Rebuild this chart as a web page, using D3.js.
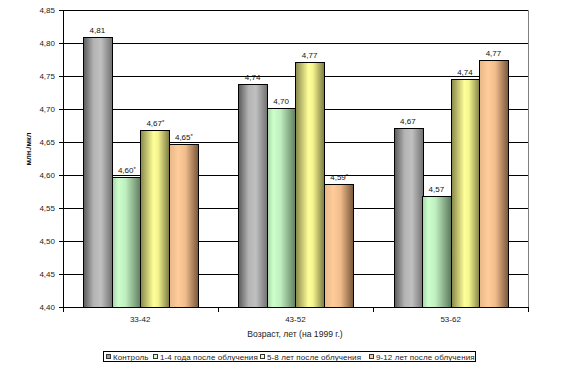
<!DOCTYPE html>
<html><head><meta charset="utf-8">
<script src="https://cdn.jsdelivr.net/npm/d3@7"></script>
<style>body{margin:0;background:#fff}svg{display:block}text{font-family:"Liberation Sans",Arial,sans-serif}</style>
</head><body><svg id="c" width="567" height="379"></svg>
<script>
const categories = ["33-42", "43-52", "53-62"];
const seriesNames = ["Контроль", "1-4 года после облучения", "5-8 лет после облучения", "9-12 лет после облучения"];
const control = [4.809, 4.738, 4.672];
const years1to4 = [4.597, 4.702, 4.568];
const years5to8 = [4.669, 4.771, 4.745];
const years9to12 = [4.647, 4.587, 4.774];
const labels = [
  ["4,81", "4,74", "4,67"],
  ["4,60*", "4,70", "4,57"],
  ["4,67*", "4,77", "4,74"],
  ["4,65*", "4,59*", "4,77"]
];
const yTicks = [4.40, 4.45, 4.50, 4.55, 4.60, 4.65, 4.70, 4.75, 4.80, 4.85];
const yTitle = "млн./мкл";
const xTitle = "Возраст, лет (на 1999 г.)";

const values = [control, years1to4, years5to8, years9to12];
const svg = d3.select("#c");
const L = 62.5, R = 528.3, T = 10.3, B = 306.7;
const y = d3.scaleLinear().domain([4.40, 4.85]).range([B, T]);
const x0 = d3.scaleBand().domain(categories).range([L, R]).padding(0);
const gw = x0.bandwidth();
const gap = gw * 0.1327;
const x1 = d3.scaleBand().domain(d3.range(seriesNames.length)).range([gap, gw - gap]).padding(0);

const defs = svg.append("defs");
const grads = [
  [[0, "#5a5a5a"], [0.35, "#b4b4b4"], [0.6, "#c0c0c0"], [1, "#707070"]],
  [[0, "#a8d4a8"], [0.2, "#ccffcc"], [0.45, "#bfeebf"], [1, "#5a765a"]],
  [[0, "#86864a"], [0.45, "#ffff99"], [0.6, "#f5f590"], [1, "#78783f"]],
  [[0, "#e8b88a"], [0.3, "#ffcc99"], [0.55, "#f0bc8c"], [1, "#765638"]]
];
const base = ["#a0a0a0", "#ccffcc", "#ffff99", "#ffcc99"];
grads.forEach((g, i) => {
  const lg = defs.append("linearGradient").attr("id", "g" + i).attr("x1", 0).attr("x2", 1).attr("y1", 0).attr("y2", 0);
  g.forEach(s => lg.append("stop").attr("offset", s[0]).attr("stop-color", s[1]));
});

// gridlines
svg.append("g").selectAll("line").data(yTicks).join("line")
  .attr("x1", L).attr("x2", R).attr("y1", d => Math.round(y(d)) + 0.5).attr("y2", d => Math.round(y(d)) + 0.5)
  .attr("stroke", "#000").attr("stroke-width", 1);
// right border
svg.append("line").attr("x1", Math.round(R) + 0.5).attr("x2", Math.round(R) + 0.5)
  .attr("y1", Math.round(T) + 0.5).attr("y2", Math.round(B) + 0.5).attr("stroke", "#808080");

// bars
const g = svg.append("g");
values.forEach((vals, si) => {
  g.selectAll(".b" + si).data(vals).join("rect")
    .attr("x", (d, ci) => Math.round(x0(categories[ci]) + x1(si)) + 0.5)
    .attr("width", Math.round(x1.bandwidth()))
    .attr("y", d => Math.round(y(d)) + 0.5)
    .attr("height", d => Math.round(y(4.40)) - Math.round(y(d)))
    .attr("fill", "url(#g" + si + ")").attr("stroke", "#000").attr("stroke-width", 1);
  vals.forEach((d, ci) => {
    const lab = labels[si][ci];
    const star = lab.endsWith("*");
    const t = svg.append("text")
      .attr("x", x0(categories[ci]) + x1(si) + x1.bandwidth() / 2 + (star ? 1 : 0))
      .attr("y", y(d) - 4).attr("text-anchor", "middle").attr("font-size", 8).attr("fill", "#111");
    t.append("tspan").text(star ? lab.slice(0, -1) : lab);
    if (star) t.append("tspan").attr("font-size", 6).attr("dy", -2).text("*");
  });
});

// y axis
svg.append("line").attr("x1", Math.round(L) + 0.5).attr("x2", Math.round(L) + 0.5)
  .attr("y1", Math.round(T) + 0.5).attr("y2", Math.round(B) + 0.5).attr("stroke", "#000");
svg.append("g").selectAll("line").data(yTicks).join("line")
  .attr("x1", Math.round(L) - 4).attr("x2", Math.round(L)).attr("y1", d => Math.round(y(d)) + 0.5).attr("y2", d => Math.round(y(d)) + 0.5)
  .attr("stroke", "#000");
svg.append("g").selectAll("text").data(yTicks).join("text")
  .attr("x", 55).attr("y", d => y(d) + 3).attr("text-anchor", "end").attr("font-size", 8).attr("fill", "#222")
  .text(d => d3.format(".2f")(d).replace(".", ","));

// x axis
svg.append("line").attr("x1", L).attr("x2", R).attr("y1", Math.round(B) + 0.5).attr("y2", Math.round(B) + 0.5).attr("stroke", "#000");
const bounds = categories.map(c => x0(c)).concat([R]);
svg.append("g").selectAll("line").data(bounds).join("line")
  .attr("x1", d => Math.round(d) + 0.5).attr("x2", d => Math.round(d) + 0.5)
  .attr("y1", Math.round(B)).attr("y2", Math.round(B) + 5).attr("stroke", "#000");
svg.append("g").selectAll("text").data(categories).join("text")
  .attr("x", d => x0(d) + gw / 2).attr("y", 322).attr("text-anchor", "middle").attr("font-size", 8).attr("fill", "#222")
  .text(d => d);

svg.append("text").attr("x", 295).attr("y", 337).attr("text-anchor", "middle").attr("font-size", 8.6).attr("fill", "#222").text(xTitle);
svg.append("text").attr("transform", "translate(31,149) rotate(-90)").attr("text-anchor", "middle")
  .attr("font-size", 7.5).attr("font-weight", "bold").attr("fill", "#111").text(yTitle);

// legend
svg.append("rect").attr("x", 103.5).attr("y", 351.5).attr("width", 372).attr("height", 10).attr("fill", "#fff").attr("stroke", "#000");
const legX = [106, 153, 260, 369];
seriesNames.forEach((n, i) => {
  svg.append("rect").attr("x", legX[i] + 0.5).attr("y", 354.5).attr("width", 4).attr("height", 4)
    .attr("fill", base[i]).attr("stroke", "#333");
  svg.append("text").attr("x", legX[i] + 7).attr("y", 359.7).attr("font-size", 8).attr("letter-spacing", 0.1).attr("fill", "#222").text(n);
});
</script></body></html>
